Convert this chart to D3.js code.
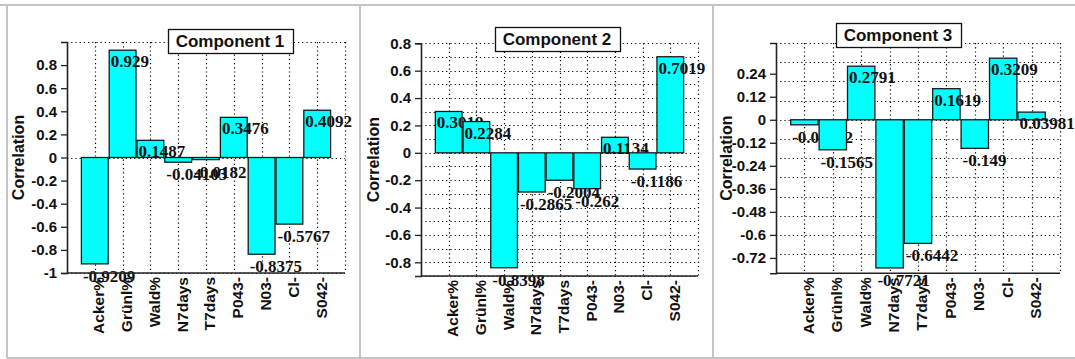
<!DOCTYPE html>
<html><head><meta charset="utf-8">
<script src="https://cdn.jsdelivr.net/npm/d3@7"></script>
<style>body{margin:0;background:#fff}svg{display:block}</style>
</head><body>
<script>
const categories = ["Acker%","Grünl%","Wald%","N7days","T7days","P043-","N03-","Cl-","S042-"];
const comp1 = [-0.9209, 0.929, 0.1487, -0.04103, -0.0182, 0.3476, -0.8375, -0.5767, 0.4092];
const comp2 = [0.3019, 0.2284, -0.8398, -0.2865, -0.2004, -0.262, 0.1134, -0.1186, 0.7019];
const comp3 = [-0.02632, -0.1565, 0.2791, -0.7721, -0.6442, 0.1619, -0.149, 0.3209, 0.03981];
const titles = ["Component 1","Component 2","Component 3"];
const yTicks1 = [0.8,0.6,0.4,0.2,0,-0.2,-0.4,-0.6,-0.8,-1];
const yTicks2 = [0.8,0.6,0.4,0.2,0,-0.2,-0.4,-0.6,-0.8];
const yTicks3 = [0.24,0.12,0,-0.12,-0.24,-0.36,-0.48,-0.6,-0.72];
const yDomain1 = [-1, 1], yDomain2 = [-0.9, 0.8], yDomain3 = [-0.8, 0.4];
const grid1 = [-1, 0, 1];
const grid2 = [-0.9,-0.8,-0.7,-0.6,-0.5,-0.4,-0.3,-0.2,-0.1,0,0.1,0.2,0.3,0.4,0.5,0.6,0.7,0.8];
const grid3 = [-0.8,-0.7,-0.6,-0.5,-0.4,-0.3,-0.2,-0.1,0,0.1,0.2,0.3,0.4];
const yLabel = "Correlation";

const W = 1075, H = 359;
const svg = d3.select("body").append("svg").attr("width", W).attr("height", H);
svg.append("rect").attr("width", W).attr("height", H).attr("fill", "#fff");

// frame
const frame = svg.append("g").attr("stroke", "#c4c4c4").attr("stroke-width", 2).attr("fill", "none");
frame.append("line").attr("x1", 0).attr("x2", W).attr("y1", 5).attr("y2", 5);
frame.append("line").attr("x1", 7).attr("x2", 7).attr("y1", 5).attr("y2", 358);
frame.append("line").attr("x1", 360).attr("x2", 360).attr("y1", 5).attr("y2", 358);
frame.append("line").attr("x1", 713).attr("x2", 713).attr("y1", 5).attr("y2", 358);
frame.append("line").attr("x1", 7).attr("x2", W).attr("y1", 358).attr("y2", 358);

const panels = [
  {values: comp1, title: titles[0], ticks: yTicks1, domain: yDomain1, grid: grid1,
   x0: 67, x1: 345, yT: 42, yB: 273, tx: 230, ty: 29, ylx: 18},
  {values: comp2, title: titles[1], ticks: yTicks2, domain: yDomain2, grid: grid2,
   x0: 421, x1: 698, yT: 43.3, yB: 276, tx: 557, ty: 27, ylx: 373},
  {values: comp3, title: titles[2], ticks: yTicks3, domain: yDomain3, grid: grid3,
   x0: 776, x1: 1060, yT: 43, yB: 273.3, tx: 898, ty: 23, ylx: 726}
];

panels.forEach(p => {
  const g = svg.append("g");
  const slots = d3.range(0, categories.length + 2);
  const xs = d3.scalePoint().domain(slots).range([p.x0, p.x1]);
  const x = c => xs(categories.indexOf(c) + 1);
  const step = xs.step();
  const y = d3.scaleLinear().domain(p.domain).range([p.yB, p.yT]);

  // grid
  const grid = g.append("g").attr("stroke", "#000").attr("stroke-width", 1.2).attr("stroke-dasharray", "1.2,3");
  grid.selectAll("line.h").data(p.grid).join("line")
    .attr("x1", p.x0).attr("x2", p.x1)
    .attr("y1", d => Math.round(y(d)) + 0.5).attr("y2", d => Math.round(y(d)) + 0.5);
  grid.selectAll("line.v").data(slots.slice(1)).join("line")
    .attr("x1", d => Math.round(xs(d)) + 0.5).attr("x2", d => Math.round(xs(d)) + 0.5)
    .attr("y1", p.yT).attr("y2", p.yB);

  // bars + labels in drawing order
  const fmt = v => String(v);
  const bl = g.append("g");
  p.values.forEach((v, i) => {
    const c = categories[i];
    const left = x(c) - step / 2;
    const y0 = y(0), yv = y(v);
    bl.append("rect")
      .attr("x", left + 0.5).attr("width", step - 1)
      .attr("y", Math.min(y0, yv)).attr("height", Math.abs(yv - y0))
      .attr("fill", "#00ffff").attr("stroke", "#1a1a1a").attr("stroke-width", 1.3);
    bl.append("text")
      .attr("x", left + 2)
      .attr("y", v >= 0 ? yv + 17 : yv + 18)
      .attr("font-family", "Liberation Serif, Times New Roman, serif")
      .attr("font-size", 17).attr("font-weight", "bold").attr("fill", "#111")
      .text(fmt(v));
  });

  // axes
  const ya = d3.axisLeft(y).tickValues(p.ticks).tickSize(6).tickPadding(4).tickFormat(d => String(d));
  const yg = g.append("g").attr("transform", `translate(${p.x0},0)`).call(ya);
  yg.select(".domain").attr("stroke", "#222").attr("stroke-width", 1.6);
  yg.selectAll(".tick line").attr("stroke", "#222").attr("stroke-width", 1.3);
  yg.selectAll(".tick text").attr("font-family", "Liberation Sans, Arial, sans-serif")
    .attr("font-size", 15).attr("font-weight", "bold").attr("fill", "#111");

  g.append("line").attr("x1", p.x0).attr("x2", p.x1).attr("y1", p.yB).attr("y2", p.yB)
    .attr("stroke", "#222").attr("stroke-width", 1.6);

  g.append("g").selectAll("text").data(categories).join("text")
    .attr("transform", d => `translate(${x(d) + 4},${p.yB + 4}) rotate(-90)`)
    .attr("text-anchor", "end").attr("dy", "0.35em")
    .attr("font-family", "Liberation Sans, Arial, sans-serif")
    .attr("font-size", 15.5).attr("font-weight", "bold").attr("fill", "#111")
    .text(d => d);

  // y label
  g.append("text")
    .attr("transform", `translate(${p.ylx + 6},${(p.yT + p.yB) / 2}) rotate(-90)`)
    .attr("text-anchor", "middle")
    .attr("font-family", "Liberation Sans, Arial, sans-serif")
    .attr("font-size", 16).attr("font-weight", "bold").attr("fill", "#111")
    .text(yLabel);

  // title box
  const tt = g.append("text")
    .attr("x", p.tx).attr("y", p.ty + 18).attr("text-anchor", "middle")
    .attr("font-family", "Liberation Sans, Arial, sans-serif")
    .attr("font-size", 17).attr("font-weight", "bold").attr("fill", "#111")
    .text(p.title);
  const bb = tt.node().getBBox();
  g.insert("rect", () => tt.node())
    .attr("x", Math.round(bb.x - 8) + 0.5).attr("y", p.ty + 0.5)
    .attr("width", Math.round(bb.width + 16)).attr("height", 24)
    .attr("fill", "#fff").attr("stroke", "#111").attr("stroke-width", 1.3);
});
</script>
</body></html>
